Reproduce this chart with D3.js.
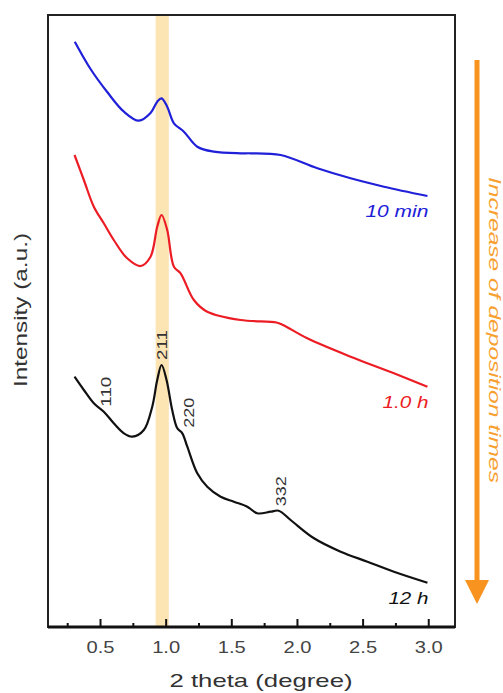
<!DOCTYPE html>
<html>
<head>
<meta charset="utf-8">
<script src="https://cdn.jsdelivr.net/npm/d3@7"></script>
<style>
  html, body { margin: 0; padding: 0; background: #fff; }
  svg { display: block; font-family: "Liberation Sans", Arial, sans-serif; }
</style>
</head>
<body>
<svg id="chart" width="503" height="693"></svg>
<script>
// ---- data ----
const xTicks = [0.5, 1.0, 1.5, 2.0, 2.5, 3.0];
const xTickLabels = ["0.5", "1.0", "1.5", "2.0", "2.5", "3.0"];
const seriesNames = ["10 min", "1.0 h", "12 h"];

const theta10min = [0.304, 0.424, 0.551, 0.678, 0.792, 0.881, 0.932, 0.965, 1.008, 1.059, 1.135, 1.237, 1.364, 1.567, 1.643, 1.872, 2.152, 2.405, 2.659, 2.99];
const int10min   = [585.3, 558, 535, 515.3, 506.3, 514, 525.3, 528.7, 520.3, 503.7, 495.3, 480.3, 475.3, 473.7, 473.7, 472, 458.7, 448.7, 440.3, 431];

const theta1h = [0.302, 0.373, 0.449, 0.525, 0.601, 0.703, 0.805, 0.881, 0.932, 0.965, 1.008, 1.059, 1.11, 1.211, 1.313, 1.567, 1.84, 1.89, 2.075, 2.405, 2.735, 2.99];
const int1h   = [472, 447, 420.3, 403.7, 387, 368.7, 361, 370.3, 400.3, 412, 397, 360.3, 353.7, 327, 315.3, 307, 304.5, 302, 288.7, 270.3, 253.7, 240.3];

const theta12h = [0.302, 0.373, 0.449, 0.525, 0.601, 0.678, 0.742, 0.83, 0.894, 0.932, 0.965, 1.003, 1.046, 1.085, 1.123, 1.161, 1.237, 1.313, 1.415, 1.516, 1.618, 1.694, 1.796, 1.857, 1.948, 2.126, 2.329, 2.533, 2.735, 2.99];
const int12h   = [250.3, 237, 223.7, 215.3, 203.7, 193.7, 190.3, 197, 220.3, 247, 262, 247, 217, 198.7, 193.7, 180.3, 153.7, 140.3, 130.3, 125.3, 120.3, 113.7, 115.3, 116.3, 107, 88.7, 75.3, 65.3, 55.3, 44.3];

const peakHkl   = ["110", "211", "220", "332"];
const peakTheta = [0.538, 0.965, 1.17, 1.872];

const bandRange = [0.92, 1.02];
const arrowText = "Increase of deposition times";

// ---- layout ----
const svg = d3.select("#chart");
const L = 48, R = 455, T = 15, B = 627;
const x = d3.scaleLinear().domain([0.1, 3.2]).range([L, R]);
const y = d3.scaleLinear().domain([0, 612]).range([B, T]);

const colors = ["#2020d8", "#ec1c24", "#111111"];
const thetas = [theta10min, theta1h, theta12h];
const ints = [int10min, int1h, int12h];
const seriesLabelLen = [63, 46, 40];

// band
svg.append("rect")
  .attr("x", x(bandRange[0])).attr("y", T)
  .attr("width", x(bandRange[1]) - x(bandRange[0]))
  .attr("height", B - T)
  .attr("fill", "#fbdfa6").attr("opacity", 0.85);

// curves
const line = d3.line().x(d => x(d[0])).y(d => y(d[1])).curve(d3.curveCatmullRom.alpha(0.5));
thetas.forEach((t, i) => {
  const pts = t.map((v, j) => [v, ints[i][j]]);
  svg.append("path").datum(pts)
    .attr("d", line)
    .attr("fill", "none")
    .attr("stroke", colors[i])
    .attr("stroke-width", 2.2)
    .attr("stroke-linejoin", "round");
  const last = pts[pts.length - 1];
  svg.append("text")
    .attr("x", x(last[0]) + 1)
    .attr("y", y(last[1]) + 21)
    .attr("text-anchor", "end")
    .attr("font-style", "italic")
    .attr("font-size", 17)
    .attr("textLength", seriesLabelLen[i])
    .attr("lengthAdjust", "spacingAndGlyphs")
    .attr("fill", colors[i])
    .text(seriesNames[i]);
});

// peak labels (on the 12 h curve)
const interp12 = v => {
  const i = d3.bisectLeft(theta12h, v);
  if (i <= 0) return int12h[0];
  if (i >= theta12h.length) return int12h[int12h.length - 1];
  const t0 = theta12h[i - 1], t1 = theta12h[i];
  return int12h[i - 1] + (int12h[i] - int12h[i - 1]) * (v - t0) / (t1 - t0);
};
const labelLift = [7, 5, 22, 6];
peakHkl.forEach((h, i) => {
  const px = x(peakTheta[i]);
  const py = y(i === 1 ? d3.max(int12h) : interp12(peakTheta[i])) - labelLift[i];
  svg.append("text")
    .attr("transform", `translate(${px},${py}) rotate(-90)`)
    .attr("dy", "0.35em")
    .attr("text-anchor", "start")
    .attr("font-size", 15)
    .attr("textLength", 30)
    .attr("lengthAdjust", "spacingAndGlyphs")
    .attr("fill", "#333")
    .text(h);
});

// frame
svg.append("rect")
  .attr("x", L).attr("y", T).attr("width", R - L).attr("height", B - T)
  .attr("fill", "none").attr("stroke", "#222").attr("stroke-width", 2);
svg.append("line")
  .attr("x1", L).attr("x2", R).attr("y1", B).attr("y2", B)
  .attr("stroke", "#111").attr("stroke-width", 3);

// x axis ticks (inward)
const minor = d3.range(0.25, 3.2, 0.25);
minor.forEach(v => {
  const isMajor = Math.abs(v * 2 - Math.round(v * 2)) < 1e-6;
  svg.append("line")
    .attr("x1", x(v)).attr("x2", x(v))
    .attr("y1", B).attr("y2", B - (isMajor ? 8 : 4))
    .attr("stroke", "#111").attr("stroke-width", 2);
});
xTicks.forEach((v, i) => {
  svg.append("text")
    .attr("x", x(v)).attr("y", B + 26)
    .attr("text-anchor", "middle")
    .attr("font-size", 17)
    .attr("textLength", 28)
    .attr("lengthAdjust", "spacingAndGlyphs")
    .attr("fill", "#444")
    .text(xTickLabels[i]);
});

// axis titles
svg.append("text")
  .attr("x", 261).attr("y", 687)
  .attr("text-anchor", "middle")
  .attr("font-size", 19)
  .attr("textLength", 183)
  .attr("lengthAdjust", "spacingAndGlyphs")
  .attr("fill", "#333")
  .text("2 theta (degree)");
svg.append("text")
  .attr("transform", `translate(27,310) rotate(-90)`)
  .attr("text-anchor", "middle")
  .attr("font-size", 19)
  .attr("textLength", 154)
  .attr("lengthAdjust", "spacingAndGlyphs")
  .attr("fill", "#333")
  .text("Intensity (a.u.)");

// orange arrow
const ax = 477;
svg.append("line")
  .attr("x1", ax).attr("x2", ax).attr("y1", 60).attr("y2", 585)
  .attr("stroke", "#f7931e").attr("stroke-width", 5);
svg.append("path")
  .attr("d", `M${ax - 12},580 L${ax + 12},580 L${ax},604 Z`)
  .attr("fill", "#f7931e");
svg.append("text")
  .attr("transform", `translate(489,330) rotate(90)`)
  .attr("text-anchor", "middle")
  .attr("font-style", "italic")
  .attr("font-size", 16)
  .attr("textLength", 306)
  .attr("lengthAdjust", "spacingAndGlyphs")
  .attr("fill", "#f7a030")
  .text(arrowText);
</script>
</body>
</html>
